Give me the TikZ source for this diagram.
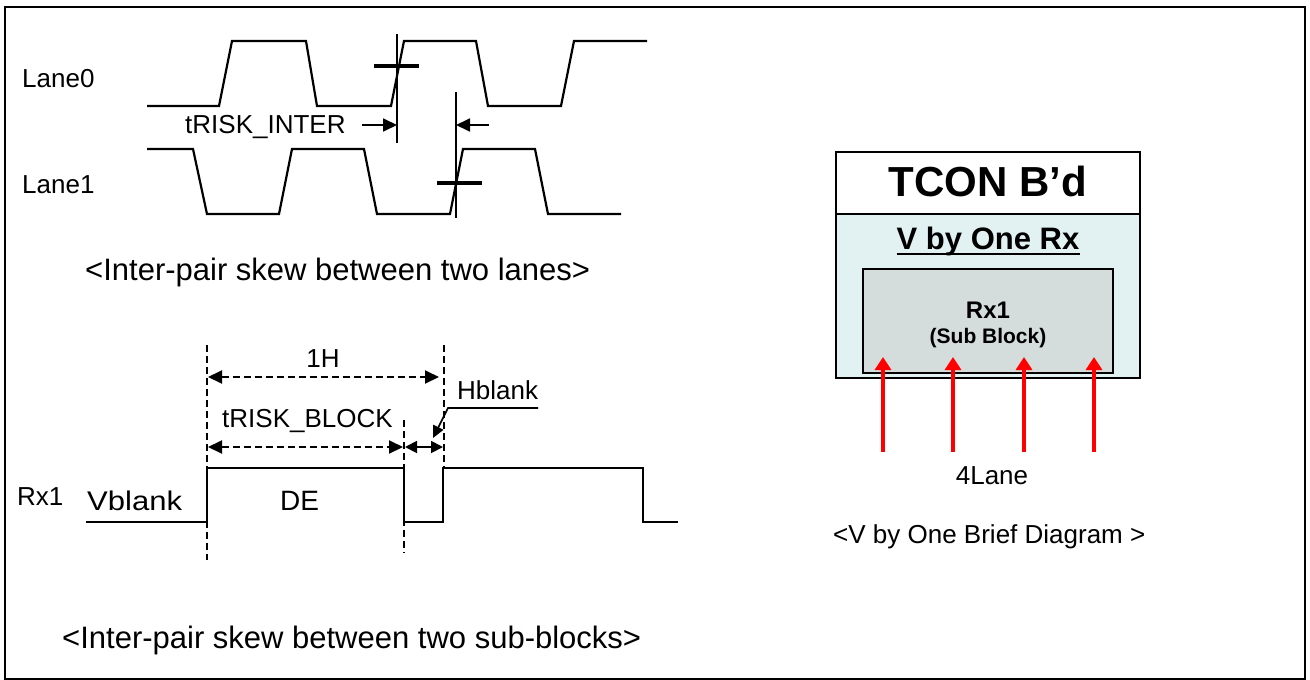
\documentclass[tikz,border=0pt]{standalone}
\usepackage{fontspec}
\setmainfont{Liberation Sans}
\usetikzlibrary{arrows.meta}
\definecolor{lightcyan}{HTML}{E2F1F2}
\definecolor{subgray}{HTML}{D5DCDC}
\newcommand\lblfont{\fontsize{26}{30}\selectfont}
\newcommand\capfont{\fontsize{31}{36}\selectfont}
\begin{document}
\begin{tikzpicture}[x=1pt,y=-1pt,
  frame/.style={line width=2pt},
  wave/.style={line width=2.2pt, line join=miter},
  thinwave/.style={line width=1.8pt},
  tick/.style={line width=3.5pt},
  vdash/.style={line width=1.4pt, dash pattern=on 7pt off 4pt},
  hdash/.style={line width=2pt, dash pattern=on 7pt off 4pt},
  tri/.tip={Triangle[length=14pt,width=13pt]},
  smalltri/.tip={Triangle[length=12pt,width=12pt]},
  arr/.style={line width=1.8pt, -tri},
  lbl/.style={inner sep=0pt, anchor=base west, font=\lblfont},
  captext/.style={inner sep=0pt, anchor=base west, font=\capfont},
  boxline/.style={line width=2.4pt},
  redarr/.style={draw=red, line width=4pt, -{Triangle[length=13pt,width=16pt]}}
]
\useasboundingbox (0,0) rectangle (1310,680);
\draw[frame] (5,7) rectangle (1305,679);

% ---------- upper timing: two lanes ----------
\node[lbl] (lane0) at (22,87) {Lane0};
\node[lbl] (lane1) at (22,193) {Lane1};
\draw[wave] (147,106) -- (219,106) -- (232,41) -- (306,41) -- (317,106) -- (391,106)
  -- (404,41) -- (476,41) -- (488,106) -- (561,106) -- (574,41) -- (647,41);
\draw[wave] (147,149) -- (193,149) -- (207,214) -- (279,214) -- (292,149) -- (364,149)
  -- (377,214) -- (450,214) -- (463,149) -- (535,149) -- (548,214) -- (621,214);
\draw[wave] (397,34) -- (397,143);
\draw[wave] (456,92) -- (456,218);
\draw[tick] (374,66) -- (419,66);
\draw[tick] (437,183) -- (482,183);
\node[lbl] (tinter) at (185,133) {tRISK\_INTER};
\coordinate (ia) at (362,125);
\coordinate (ib) at (397,125);
\coordinate (ic) at (489,125);
\coordinate (id) at (456,125);
\draw[arr] (ia) -- (ib);
\draw[arr] (ic) -- (id);
\node[captext] (cap1) at (85,280) {<Inter-pair skew between two lanes>};

% ---------- lower timing: sub-blocks ----------
\draw[vdash] (207,345) -- (207,560);
\draw[vdash] (444,345) -- (444,468);
\draw[vdash] (404,420) -- (404,553);
\node[inner sep=0pt, anchor=base, font=\lblfont] (oneh) at (323,367) {1H};
\coordinate (ha) at (208,377);
\coordinate (hb) at (439,377);
\draw[hdash, tri-tri] (ha) -- (hb);
\node[lbl] (tblock) at (222,427) {tRISK\_BLOCK};
\coordinate (ba) at (208,447);
\coordinate (bb) at (403,447);
\draw[hdash, tri-tri] (ba) -- (bb);
\coordinate (hba) at (405,447);
\coordinate (hbb) at (443,447);
\draw[line width=1.8pt, smalltri-smalltri] (hba) -- (hbb);
\node[lbl] (hblank) at (457,399) {Hblank};
\coordinate (la) at (538,408);
\coordinate (lb) at (448,408);
\coordinate (lc) at (433,438);
\draw[line width=1.6pt, -{Triangle[length=12pt,width=11pt]}] (la) -- (lb) -- (lc);
\node[lbl] (rxlbl) at (17,505) {Rx1};
\node[lbl] (vblank) at (87,510) {\scalebox{1.15}[1]{\fontsize{27}{31}\selectfont Vblank}};
\node[lbl] (de) at (280,510) {\fontsize{28}{32}\selectfont DE};
\draw[thinwave] (86,522) -- (207,522) -- (207,468) -- (404,468) -- (404,522) -- (443,522)
  -- (443,468) -- (643,468) -- (643,522) -- (678,522);
\node[captext] (cap2) at (62,648) {<Inter-pair skew between two sub-blocks>};

% ---------- right block diagram ----------
\fill[lightcyan] (836,214) rectangle (1140,378);
\draw[boxline] (836,152) rectangle (1140,378);
\draw[boxline] (836,214) -- (1140,214);
\node[inner sep=0pt, anchor=base, font=\fontsize{42}{48}\selectfont\bfseries] (tcon) at (988,196) {TCON B’d};
\node[inner sep=0pt, anchor=base, font=\fontsize{31}{36}\selectfont\bfseries] (vbo) at (988,249) {V by One Rx};
\draw[line width=2pt] ([yshift=-5pt]vbo.base west) -- ([yshift=-5pt]vbo.base east);
\draw[line width=2pt, fill=subgray] (863,269) rectangle (1113,373);
\node[inner sep=0pt, anchor=base, font=\fontsize{24}{28}\selectfont\bfseries] (rx1) at (988,318) {Rx1};
\node[inner sep=0pt, anchor=base, font=\fontsize{21}{25}\selectfont\bfseries] (sub) at (988,343) {(Sub Block)};
\foreach \xx [count=\i] in {883,953,1024,1094} {
  \coordinate (r\i a) at (\xx,452);
  \coordinate (r\i b) at (\xx,357);
  \draw[redarr] (r\i a) -- (r\i b);
}
\node[inner sep=0pt, anchor=base, font=\lblfont] (four) at (992,484) {4Lane};
\node[lbl] (brief) at (833,543) {<V by One Brief Diagram >};
\end{tikzpicture}
\end{document}
